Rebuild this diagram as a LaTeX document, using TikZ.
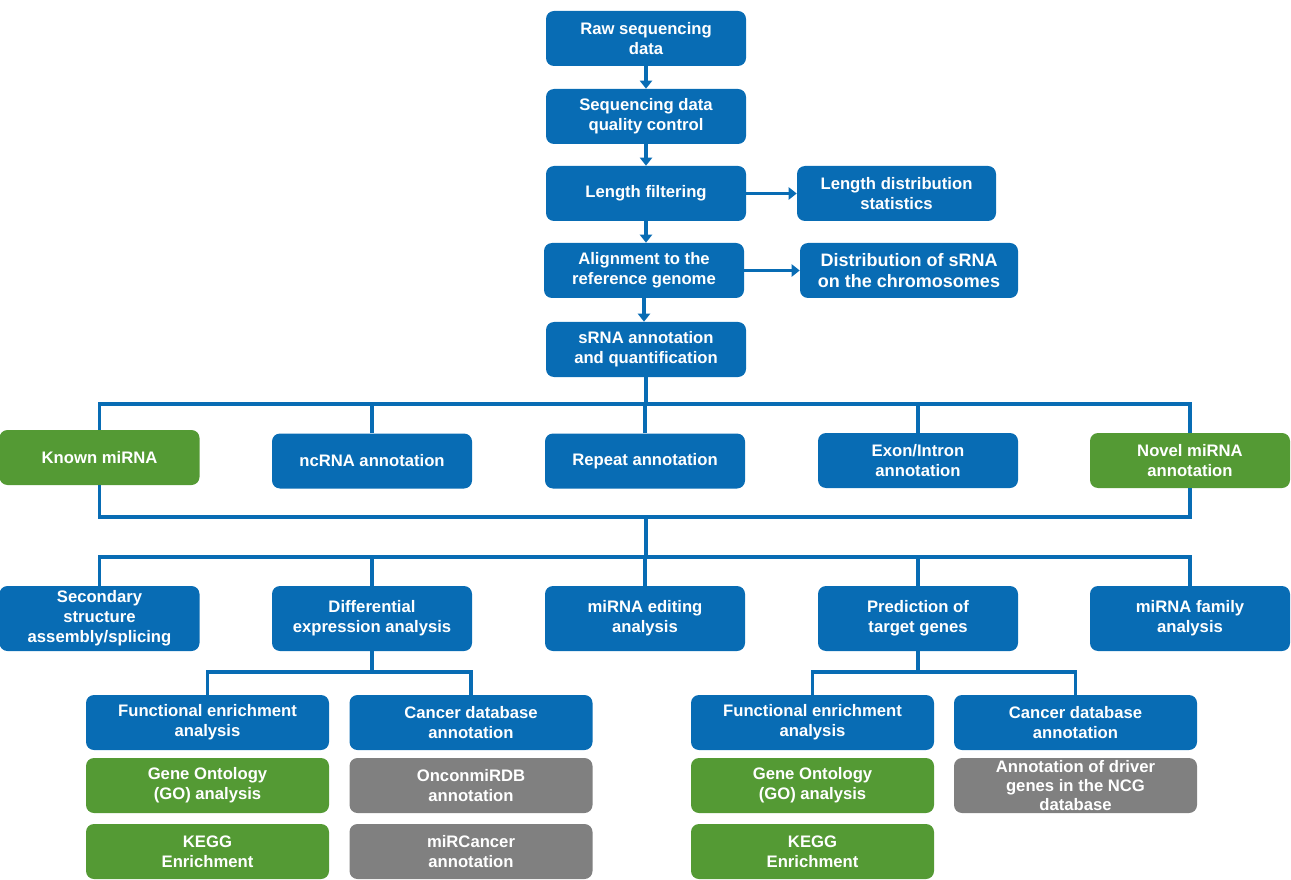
\documentclass[tikz,border=0pt]{standalone}
\usepackage{fontspec}
\setmainfont{Liberation Sans}
\usetikzlibrary{arrows.meta}
\definecolor{boxblue}{RGB}{8,108,180}
\definecolor{boxgreen}{RGB}{84,154,52}
\definecolor{boxgray}{RGB}{128,128,128}
\begin{document}
\begin{tikzpicture}[x=0.75pt,y=-0.75pt,
  box/.style={fill=boxblue, rounded corners=6pt, text=white, align=center,
    inner sep=0pt, font=\bfseries\fontsize{12.5}{15}\selectfont,
    minimum width=150pt, minimum height=41.25pt},
  tallbox/.style={box, minimum height=48.75pt},
  widebox/.style={box, minimum width=182.25pt},
  greenbox/.style={fill=boxgreen},
  graybox/.style={fill=boxgray},
  conn/.style={draw=boxblue, line width=2.3pt},
  arr/.style={conn, -{Triangle[width=9pt,length=6pt]}}]
\useasboundingbox (0,0) rectangle (1291,880);

% main processing chain
\node[box] (raw) at (646,38.5) {Raw sequencing\\data};
\node[box] (qc) at (646,116.5) {Sequencing data\\quality control};
\node[box] (lenf) at (646,193.5) {Length filtering};
\node[box, minimum width=149.25pt] (lend) at (896.5,193.5) {Length distribution\\statistics};
\node[box] (align) at (644,270.5) {Alignment to the\\reference genome};
\node[box, minimum width=163.5pt, font=\bfseries\fontsize{13.5}{16}\selectfont] (chrom) at (909,270.5) {Distribution of sRNA\\on the chromosomes};
\node[box] (annot) at (646,349.5) {sRNA annotation\\and quantification};

% annotation categories
\node[box, greenbox] (known) at (99.5,457.5) {Known miRNA};
\node[box] (ncrna) at (372,461) {ncRNA annotation};
\node[box] (repeat) at (645,461) {Repeat annotation};
\node[box] (exon) at (918,460.5) {Exon/Intron\\annotation};
\node[box, greenbox] (novel) at (1190,460.5) {Novel miRNA\\annotation};

% downstream analyses
\node[tallbox] (second) at (99.5,618.5) {Secondary\\structure\\assembly/splicing};
\node[tallbox] (diff) at (372,618.5) {Differential\\expression analysis};
\node[tallbox] (edit) at (645,618.5) {miRNA editing\\analysis};
\node[tallbox] (target) at (918,618.5) {Prediction of\\target genes};
\node[tallbox] (family) at (1190,618.5) {miRNA family\\analysis};

% differential expression branch
\node[widebox] (fea) at (207.5,722.5) {Functional enrichment\\analysis};
\node[widebox] (cda) at (471,722.5) {Cancer database\\annotation};
\node[widebox, greenbox] (goa) at (207.5,785.5) {Gene Ontology\\(GO) analysis};
\node[widebox, graybox] (onco) at (471,785.5) {OnconmiRDB\\annotation};
\node[widebox, greenbox] (kegga) at (207.5,851.5) {KEGG\\Enrichment};
\node[widebox, graybox] (mirc) at (471,851.5) {miRCancer\\annotation};

% target gene branch
\node[widebox] (feb) at (812.5,722.5) {Functional enrichment\\analysis};
\node[widebox] (cdb) at (1075.5,722.5) {Cancer database\\annotation};
\node[widebox, greenbox] (gob) at (812.5,785.5) {Gene Ontology\\(GO) analysis};
\node[widebox, graybox, font=\bfseries\fontsize{12.5}{14}\selectfont] (ncg) at (1075.5,785.5) {Annotation of driver\\genes in the NCG\\database};
\node[widebox, greenbox] (keggb) at (812.5,851.5) {KEGG\\Enrichment};

% junction points
\coordinate (top1) at (646,404);
\coordinate (bot1) at (646,517);
\coordinate (top2) at (646,557);
\coordinate (splitd) at (372,672);
\coordinate (splitt) at (918,672);

% chain arrows
\draw[arr] (raw) -- (qc);
\draw[arr] (qc) -- (lenf);
\draw[arr] (lenf.south) -- (lenf.south |- align.north);
\draw[arr] (align.south) -- (align.south |- annot.north);
\draw[arr] (lenf) -- (lend);
\draw[arr] (align) -- (chrom);

% first bracket
\draw[conn] (annot.south) -- (top1);
\draw[conn] (known.north) -- (known.north |- top1) -- (novel.north |- top1) -- (novel.north);
\draw[conn] (ncrna.north) -- (ncrna.north |- top1);
\draw[conn] (repeat.north) -- (repeat.north |- top1);
\draw[conn] (exon.north) -- (exon.north |- top1);
\draw[conn] (known.south) -- (known.south |- bot1) -- (novel.south |- bot1) -- (novel.south);

% second bracket
\draw[conn] (bot1) -- (top2);
\draw[conn] (second.north) -- (second.north |- top2) -- (family.north |- top2) -- (family.north);
\draw[conn] (diff.north) -- (diff.north |- top2);
\draw[conn] (edit.north) -- (edit.north |- top2);
\draw[conn] (target.north) -- (target.north |- top2);

% sub-branches
\draw[conn] (diff.south) -- (splitd);
\draw[conn] (fea.north) -- (fea.north |- splitd) -- (cda.north |- splitd) -- (cda.north);
\draw[conn] (target.south) -- (splitt);
\draw[conn] (feb.north) -- (feb.north |- splitt) -- (cdb.north |- splitt) -- (cdb.north);
\end{tikzpicture}
\end{document}
